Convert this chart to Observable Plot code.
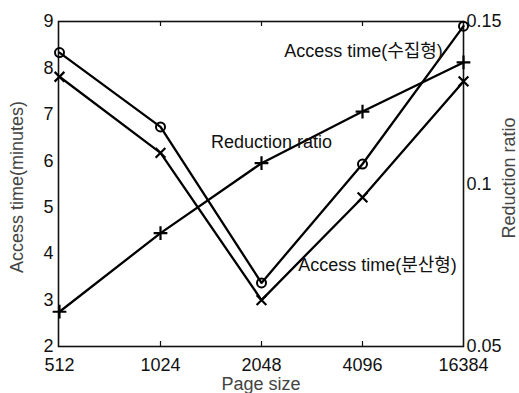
<!DOCTYPE html>
<html>
<head>
<meta charset="utf-8">
<script src="https://cdn.jsdelivr.net/npm/d3@7"></script>
<script src="https://cdn.jsdelivr.net/npm/@observablehq/plot@0.6"></script>
<style>
  html, body { margin: 0; padding: 0; background: #fff; }
</style>
</head>
<body>
<div id="chart"></div>
<script>
// Data
const pageSizes = ["512", "1024", "2048", "4096", "16384"];
const accessCollect = [8.33, 6.73, 3.37, 5.93, 8.90];     // Access time(수집형), minutes (circles)
const accessDistrib = [7.81, 6.17, 3.00, 5.21, 7.71];     // Access time(분산형), minutes (x marks)
const reductionRatio = [0.0607, 0.0849, 0.1064, 0.1223, 0.1374]; // Reduction ratio (plus marks)
const leftTicks = [2, 3, 4, 5, 6, 7, 8, 9];
const rightTicks = [0.05, 0.1, 0.15];
const seriesLabels = [
  {text: "Access time(수집형)", x: "4096", y: 8.35, dx: 1},
  {text: "Reduction ratio", x: "2048", y: 6.39, dx: 10},
  {text: "Access time(분산형)", x: "4096", y: 3.74, dx: 15}
];

// right axis (0.05..0.15) mapped onto left scale (2..9)
const toLeft = r => 2 + (r - 0.05) / 0.1 * 7;
const fromLeft = v => 0.05 + (v - 2) / 7 * 0.1;

const collect = pageSizes.map((p, i) => ({p, v: accessCollect[i]}));
const distrib = pageSizes.map((p, i) => ({p, v: accessDistrib[i]}));
const ratio = pageSizes.map((p, i) => ({p, v: toLeft(reductionRatio[i])}));

const font = "'Liberation Sans', Arial, Helvetica, 'Noto Sans CJK KR', sans-serif";
const fs = 18;
const lw = 2.3;

const innerTicks = ["1024", "2048", "4096"];

const chart = Plot.plot({
  width: 519,
  height: 393,
  marginLeft: 58,
  marginRight: 56,
  marginTop: 21,
  marginBottom: 47,
  style: {fontFamily: font, fontSize: fs + "px", color: "#111", background: "#fff"},
  x: {type: "point", domain: pageSizes, padding: 0},
  y: {domain: [2, 9]},
  marks: [
    Plot.frame({stroke: "#111", strokeWidth: 1.6}),
    // inward ticks
    Plot.ruleX(innerTicks, {x: d => d, y1: 2, y2: 2, insetBottom: 5, stroke: "#111", strokeWidth: 1.2}),
    Plot.ruleX(innerTicks, {x: d => d, y1: 9, y2: 9, insetTop: 5, stroke: "#111", strokeWidth: 1.2}),
    Plot.ruleY(leftTicks.slice(1, -1), {y: d => d, x1: "512", x2: "512", insetRight: -5, stroke: "#111", strokeWidth: 1.2}),
    Plot.ruleY(rightTicks.slice(1, -1).map(toLeft), {y: d => d, x1: "16384", x2: "16384", insetLeft: -5, stroke: "#111", strokeWidth: 1.2}),
    // axes labels
    Plot.axisX({anchor: "bottom", tickSize: 0, tickPadding: 12, fontSize: fs, label: null, fill: "#111"}),
    Plot.axisY(leftTicks, {anchor: "left", tickSize: 0, tickPadding: 5, fontSize: fs, label: null, fill: "#111"}),
    Plot.axisY(rightTicks.map(toLeft), {anchor: "right", tickSize: 0, tickPadding: 3, fontSize: fs, label: null, fill: "#111",
      tickFormat: d => String(+fromLeft(d).toFixed(2))}),
    // axis titles
    Plot.text(["Access time(minutes)"], {frameAnchor: "left", textAnchor: "middle", lineAnchor: "middle", text: d => d, rotate: -90, dx: -41, dy: 3, fontSize: fs, fill: "#444"}),
    Plot.text(["Reduction ratio"], {frameAnchor: "right", textAnchor: "middle", lineAnchor: "middle", text: d => d, rotate: -90, dx: 46, dy: -6, fontSize: fs, fill: "#444"}),
    Plot.text(["Page size"], {frameAnchor: "bottom", lineAnchor: "middle", text: d => d, dy: 38, fontSize: fs, fill: "#444"}),
    // series
    Plot.line(collect, {x: "p", y: "v", stroke: "#000", strokeWidth: lw}),
    Plot.line(distrib, {x: "p", y: "v", stroke: "#000", strokeWidth: lw}),
    Plot.line(ratio, {x: "p", y: "v", stroke: "#000", strokeWidth: lw}),
    Plot.dot(collect, {x: "p", y: "v", symbol: "circle", r: 4.5, stroke: "#000", fill: "none", strokeWidth: 2}),
    Plot.dot(distrib, {x: "p", y: "v", symbol: "times", r: 4.5, stroke: "#000", fill: "none", strokeWidth: 2.2}),
    Plot.dot(ratio, {x: "p", y: "v", symbol: "plus", r: 4.5, stroke: "#000", fill: "none", strokeWidth: 2.2}),
    // series labels (one mark each so each can carry its own pixel offset)
    ...seriesLabels.map(l => Plot.text([l], {x: "x", y: "y", text: "text", dx: l.dx, fontSize: fs, fill: "#111"}))
  ]
});
document.getElementById("chart").appendChild(chart);
</script>
</body>
</html>
